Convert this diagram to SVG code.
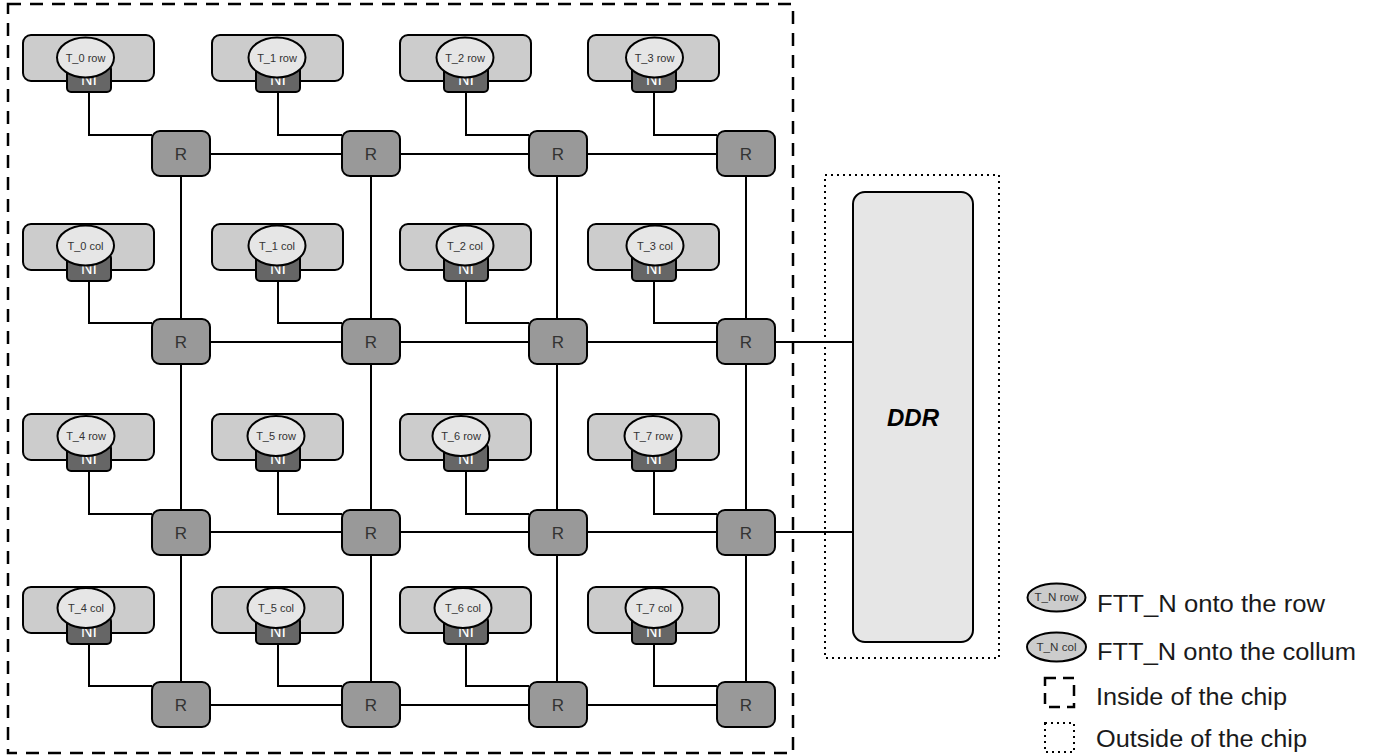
<svg xmlns="http://www.w3.org/2000/svg" width="1376" height="756" viewBox="0 0 1376 756">
<style>
.tile{fill:#cccccc;stroke:#000;stroke-width:2}
.ni{fill:#666666;stroke:#000;stroke-width:2}
.nit{font-family:"Liberation Sans",Arial,sans-serif;font-size:16px;fill:#fff;text-anchor:middle}
.ell{fill:#e6e6e6;stroke:#000;stroke-width:2}
.et{font-family:"Liberation Sans",Arial,sans-serif;font-size:11px;fill:#333;text-anchor:middle}
.r{fill:#999999;stroke:#000;stroke-width:2}
.rt{font-family:"Liberation Sans",Arial,sans-serif;font-size:17px;fill:#333;text-anchor:middle}
.ln{fill:none;stroke:#000;stroke-width:2}
.dash{fill:none;stroke:#000;stroke-width:2.5;stroke-dasharray:13 9}
.dot{fill:none;stroke:#000;stroke-width:2;stroke-dasharray:2 4}
.lg{font-family:"Liberation Sans",Arial,sans-serif;font-size:23px;fill:#1a1a1a}
.lge{fill:#cccccc;stroke:#000;stroke-width:2}
.lget{font-family:"Liberation Sans",Arial,sans-serif;font-size:10px;fill:#333;text-anchor:middle}
</style>

<g id="chip-border"><rect class="dash" x="8" y="4" width="785" height="749"/></g>
<g id="ddr-border"><rect class="dot" x="825" y="175" width="174" height="483"/></g>

<g id="connectors">
  <line class="ln" x1="181" y1="154" x2="746" y2="154"/>
  <line class="ln" x1="181" y1="342" x2="853" y2="342"/>
  <line class="ln" x1="181" y1="532" x2="853" y2="532"/>
  <line class="ln" x1="181" y1="705" x2="746" y2="705"/>
  <line class="ln" x1="181" y1="154" x2="181" y2="705"/>
  <line class="ln" x1="371" y1="154" x2="371" y2="705"/>
  <line class="ln" x1="557" y1="154" x2="557" y2="705"/>
  <line class="ln" x1="746" y1="154" x2="746" y2="705"/>
  <polyline class="ln" points="89,92 89,135 152,135"/>
  <polyline class="ln" points="278,92 278,135 342,135"/>
  <polyline class="ln" points="466,92 466,135 529,135"/>
  <polyline class="ln" points="654,92 654,135 717,135"/>
  <polyline class="ln" points="89,281 89,323 152,323"/>
  <polyline class="ln" points="278,281 278,323 342,323"/>
  <polyline class="ln" points="466,281 466,323 529,323"/>
  <polyline class="ln" points="654,281 654,323 717,323"/>
  <polyline class="ln" points="89,471 89,514 152,514"/>
  <polyline class="ln" points="278,471 278,514 342,514"/>
  <polyline class="ln" points="466,471 466,514 529,514"/>
  <polyline class="ln" points="654,471 654,514 717,514"/>
  <polyline class="ln" points="89,644 89,686 152,686"/>
  <polyline class="ln" points="278,644 278,686 342,686"/>
  <polyline class="ln" points="466,644 466,686 529,686"/>
  <polyline class="ln" points="654,644 654,686 717,686"/>
</g>

<g id="tile-T0-row"><rect class="tile" x="23" y="35" width="131" height="46" rx="8"/><rect class="ni" x="67" y="65" width="44" height="27" rx="4"/><text class="nit" x="89" y="84.5">NI</text><ellipse class="ell" cx="85.5" cy="57.5" rx="28.5" ry="20"/><text class="et" x="85.5" y="61.5">T_0 row</text></g>
<g id="tile-T1-row"><rect class="tile" x="212" y="35" width="131" height="46" rx="8"/><rect class="ni" x="256" y="65" width="44" height="27" rx="4"/><text class="nit" x="278" y="84.5">NI</text><ellipse class="ell" cx="277" cy="57.5" rx="28.5" ry="20"/><text class="et" x="277" y="61.5">T_1 row</text></g>
<g id="tile-T2-row"><rect class="tile" x="400" y="35" width="131" height="46" rx="8"/><rect class="ni" x="444" y="65" width="44" height="27" rx="4"/><text class="nit" x="466" y="84.5">NI</text><ellipse class="ell" cx="465" cy="57.5" rx="28.5" ry="20"/><text class="et" x="465" y="61.5">T_2 row</text></g>
<g id="tile-T3-row"><rect class="tile" x="588" y="35" width="131" height="46" rx="8"/><rect class="ni" x="632" y="65" width="44" height="27" rx="4"/><text class="nit" x="654" y="84.5">NI</text><ellipse class="ell" cx="654.5" cy="57.5" rx="28.5" ry="20"/><text class="et" x="654.5" y="61.5">T_3 row</text></g>

<g id="tile-T0-col"><rect class="tile" x="23" y="224" width="131" height="46" rx="8"/><rect class="ni" x="67" y="254" width="44" height="27" rx="4"/><text class="nit" x="89" y="273.5">NI</text><ellipse class="ell" cx="85.5" cy="245.5" rx="28.5" ry="20"/><text class="et" x="85.5" y="249.5">T_0 col</text></g>
<g id="tile-T1-col"><rect class="tile" x="212" y="224" width="131" height="46" rx="8"/><rect class="ni" x="256" y="254" width="44" height="27" rx="4"/><text class="nit" x="278" y="273.5">NI</text><ellipse class="ell" cx="277" cy="245.5" rx="28.5" ry="20"/><text class="et" x="277" y="249.5">T_1 col</text></g>
<g id="tile-T2-col"><rect class="tile" x="400" y="224" width="131" height="46" rx="8"/><rect class="ni" x="444" y="254" width="44" height="27" rx="4"/><text class="nit" x="466" y="273.5">NI</text><ellipse class="ell" cx="465" cy="245.5" rx="28.5" ry="20"/><text class="et" x="465" y="249.5">T_2 col</text></g>
<g id="tile-T3-col"><rect class="tile" x="588" y="224" width="131" height="46" rx="8"/><rect class="ni" x="632" y="254" width="44" height="27" rx="4"/><text class="nit" x="654" y="273.5">NI</text><ellipse class="ell" cx="655" cy="245.5" rx="28.5" ry="20"/><text class="et" x="655" y="249.5">T_3 col</text></g>

<g id="tile-T4-row"><rect class="tile" x="23" y="414" width="131" height="46" rx="8"/><rect class="ni" x="67" y="444" width="44" height="27" rx="4"/><text class="nit" x="89" y="463.5">NI</text><ellipse class="ell" cx="86" cy="436" rx="28.5" ry="20"/><text class="et" x="86" y="440">T_4 row</text></g>
<g id="tile-T5-row"><rect class="tile" x="212" y="414" width="131" height="46" rx="8"/><rect class="ni" x="256" y="444" width="44" height="27" rx="4"/><text class="nit" x="278" y="463.5">NI</text><ellipse class="ell" cx="276" cy="436" rx="28.5" ry="20"/><text class="et" x="276" y="440">T_5 row</text></g>
<g id="tile-T6-row"><rect class="tile" x="400" y="414" width="131" height="46" rx="8"/><rect class="ni" x="444" y="444" width="44" height="27" rx="4"/><text class="nit" x="466" y="463.5">NI</text><ellipse class="ell" cx="461" cy="436" rx="28.5" ry="20"/><text class="et" x="461" y="440">T_6 row</text></g>
<g id="tile-T7-row"><rect class="tile" x="588" y="414" width="131" height="46" rx="8"/><rect class="ni" x="632" y="444" width="44" height="27" rx="4"/><text class="nit" x="654" y="463.5">NI</text><ellipse class="ell" cx="653" cy="436" rx="28.5" ry="20"/><text class="et" x="653" y="440">T_7 row</text></g>

<g id="tile-T4-col"><rect class="tile" x="23" y="587" width="131" height="46" rx="8"/><rect class="ni" x="67" y="617" width="44" height="27" rx="4"/><text class="nit" x="89" y="636.5">NI</text><ellipse class="ell" cx="86" cy="608" rx="28.5" ry="20"/><text class="et" x="86" y="612">T_4 col</text></g>
<g id="tile-T5-col"><rect class="tile" x="212" y="587" width="131" height="46" rx="8"/><rect class="ni" x="256" y="617" width="44" height="27" rx="4"/><text class="nit" x="278" y="636.5">NI</text><ellipse class="ell" cx="276" cy="608" rx="28.5" ry="20"/><text class="et" x="276" y="612">T_5 col</text></g>
<g id="tile-T6-col"><rect class="tile" x="400" y="587" width="131" height="46" rx="8"/><rect class="ni" x="444" y="617" width="44" height="27" rx="4"/><text class="nit" x="466" y="636.5">NI</text><ellipse class="ell" cx="463" cy="608" rx="28.5" ry="20"/><text class="et" x="463" y="612">T_6 col</text></g>
<g id="tile-T7-col"><rect class="tile" x="588" y="587" width="131" height="46" rx="8"/><rect class="ni" x="632" y="617" width="44" height="27" rx="4"/><text class="nit" x="654" y="636.5">NI</text><ellipse class="ell" cx="654" cy="608" rx="28.5" ry="20"/><text class="et" x="654" y="612">T_7 col</text></g>

<g id="R-0-0"><rect class="r" x="152" y="131" width="58" height="45" rx="8"/><text class="rt" x="181" y="160">R</text></g>
<g id="R-0-1"><rect class="r" x="342" y="131" width="58" height="45" rx="8"/><text class="rt" x="371" y="160">R</text></g>
<g id="R-0-2"><rect class="r" x="529" y="131" width="58" height="45" rx="8"/><text class="rt" x="558" y="160">R</text></g>
<g id="R-0-3"><rect class="r" x="717" y="131" width="58" height="45" rx="8"/><text class="rt" x="746" y="160">R</text></g>
<g id="R-1-0"><rect class="r" x="152" y="319" width="58" height="45" rx="8"/><text class="rt" x="181" y="348">R</text></g>
<g id="R-1-1"><rect class="r" x="342" y="319" width="58" height="45" rx="8"/><text class="rt" x="371" y="348">R</text></g>
<g id="R-1-2"><rect class="r" x="529" y="319" width="58" height="45" rx="8"/><text class="rt" x="558" y="348">R</text></g>
<g id="R-1-3"><rect class="r" x="717" y="319" width="58" height="45" rx="8"/><text class="rt" x="746" y="348">R</text></g>
<g id="R-2-0"><rect class="r" x="152" y="510" width="58" height="45" rx="8"/><text class="rt" x="181" y="539">R</text></g>
<g id="R-2-1"><rect class="r" x="342" y="510" width="58" height="45" rx="8"/><text class="rt" x="371" y="539">R</text></g>
<g id="R-2-2"><rect class="r" x="529" y="510" width="58" height="45" rx="8"/><text class="rt" x="558" y="539">R</text></g>
<g id="R-2-3"><rect class="r" x="717" y="510" width="58" height="45" rx="8"/><text class="rt" x="746" y="539">R</text></g>
<g id="R-3-0"><rect class="r" x="152" y="682" width="58" height="45" rx="8"/><text class="rt" x="181" y="711">R</text></g>
<g id="R-3-1"><rect class="r" x="342" y="682" width="58" height="45" rx="8"/><text class="rt" x="371" y="711">R</text></g>
<g id="R-3-2"><rect class="r" x="529" y="682" width="58" height="45" rx="8"/><text class="rt" x="558" y="711">R</text></g>
<g id="R-3-3"><rect class="r" x="717" y="682" width="58" height="45" rx="8"/><text class="rt" x="746" y="711">R</text></g>

<g id="DDR"><rect x="853" y="192" width="120" height="450" rx="12" fill="#e6e6e6" stroke="#000" stroke-width="2"/><text x="913" y="426" font-family="'Liberation Sans',Arial,sans-serif" font-size="24" font-weight="bold" font-style="italic" text-anchor="middle" fill="#000">DDR</text></g>

<g id="legend-row"><ellipse class="lge" cx="1056.5" cy="597.5" rx="29" ry="14"/><text class="lget" x="1056.5" y="601" textLength="44" lengthAdjust="spacingAndGlyphs">T_N row</text><text class="lg" x="1097" y="611.5" textLength="228" lengthAdjust="spacingAndGlyphs">FTT_N onto the row</text></g>
<g id="legend-col"><ellipse class="lge" cx="1056.5" cy="647" rx="29.5" ry="14.5"/><text class="lget" x="1056.5" y="650.5" textLength="40" lengthAdjust="spacingAndGlyphs">T_N col</text><text class="lg" x="1097" y="660" textLength="259" lengthAdjust="spacingAndGlyphs">FTT_N onto the collum</text></g>
<g id="legend-inside"><rect class="dash" x="1045" y="678" width="29" height="29" style="stroke-dasharray:11 7"/><text class="lg" x="1096" y="705" textLength="191" lengthAdjust="spacingAndGlyphs">Inside of the chip</text></g>
<g id="legend-outside"><rect class="dot" x="1045" y="723" width="29" height="29"/><text class="lg" x="1096" y="747" textLength="211" lengthAdjust="spacingAndGlyphs">Outside of the chip</text></g>
</svg>
